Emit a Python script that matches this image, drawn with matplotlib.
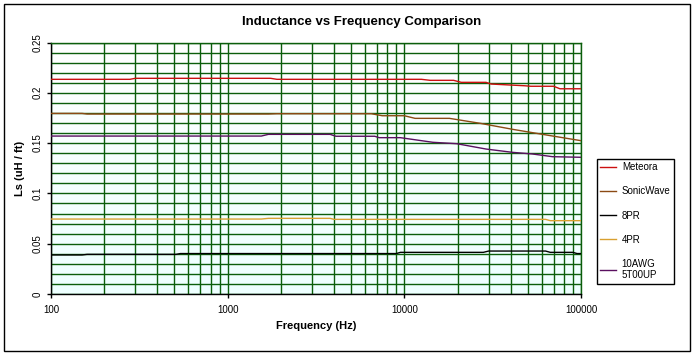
import numpy as np
import matplotlib
matplotlib.use("Agg")
import matplotlib.pyplot as plt
from matplotlib.patches import Rectangle
from matplotlib.ticker import FixedLocator, FixedFormatter, NullFormatter

plt.rcParams["font.family"] = ["Liberation Sans", "DejaVu Sans"]

# Frequency breakpoints (Hz) and inductance (uH / ft)
meteora_f = [100, 280, 300, 1750, 1900, 12500, 14000, 19000, 21000, 29000, 31000, 48000, 52000, 70000, 76000, 100000]
meteora_ls = [0.2134, 0.2134, 0.2144, 0.2144, 0.2134, 0.2134, 0.2124, 0.2124, 0.2104, 0.2104, 0.2087, 0.2070, 0.2065, 0.2065, 0.2040, 0.2040]

sonicwave_f = [100, 150, 160, 1700, 1900, 6500, 7500, 10000, 11500, 18000, 27000, 41000, 64000, 100000]
sonicwave_ls = [0.1795, 0.1795, 0.1789, 0.1789, 0.1792, 0.1792, 0.1772, 0.1772, 0.1746, 0.1746, 0.1696, 0.1637, 0.1580, 0.1524]

pr8_f = [100, 150, 160, 510, 540, 9000, 9500, 28000, 30000, 63000, 67000, 90000, 95000, 100000]
pr8_ls = [0.0388, 0.0388, 0.0394, 0.0394, 0.0402, 0.0402, 0.0414, 0.0414, 0.0427, 0.0427, 0.0414, 0.0414, 0.0402, 0.0402]

pr4_f = [100, 1550, 1700, 3800, 4000, 63000, 67000, 100000]
pr4_ls = [0.0745, 0.0745, 0.0752, 0.0752, 0.0742, 0.0742, 0.0729, 0.0729]

awg10_f = [100, 1550, 1700, 3800, 4100, 6800, 7200, 9500, 14500, 19800, 29000, 41000, 53000, 69000, 100000]
awg10_ls = [0.1570, 0.1570, 0.1587, 0.1587, 0.1568, 0.1568, 0.1554, 0.1554, 0.1508, 0.1494, 0.1441, 0.1408, 0.1392, 0.1365, 0.1359]

series_names = ["Meteora", "SonicWave", "8PR", "4PR", "10AWG\n5T00UP"]
series_colors = ["#CC1010", "#8B4A14", "#000000", "#D9A030", "#5A1060"]

x_tick_values = [100, 1000, 10000, 100000]
x_tick_labels = ["100", "1000", "10000", "100000"]
y_tick_values = [0, 0.05, 0.1, 0.15, 0.2, 0.25]
y_tick_labels = ["0", "0.05", "0.1", "0.15", "0.2", "0.25"]

GRID = "#0B5E0B"

fig = plt.figure(figsize=(6.96, 3.56), dpi=100)
fig.patch.set_facecolor("white")
fig.patches.append(Rectangle((4 / 696, 5 / 356), 686 / 696, 347 / 356, transform=fig.transFigure,
                             fill=False, edgecolor="black", linewidth=1.0))

ax = fig.add_axes([51 / 696, 62 / 356, 530 / 696, 251.5 / 356])

# white-to-pale-cyan fill of the plot area
grad = np.linspace(0, 1, 256).reshape(-1, 1)
bg = np.ones((256, 1, 3))
bg[:, 0, 0] = 1 - 0.07 * grad[:, 0]
ax.imshow(bg, extent=[0, 1, 0, 1], transform=ax.transAxes, aspect="auto", zorder=0, origin="upper")

all_series = [(meteora_f, meteora_ls), (sonicwave_f, sonicwave_ls), (pr8_f, pr8_ls),
              (pr4_f, pr4_ls), (awg10_f, awg10_ls)]
for (f, ls), name, color in zip(all_series, series_names, series_colors):
    ax.plot(f, ls, color=color, linewidth=1.0, label=name, zorder=3)

ax.set_xscale("log")
ax.set_xlim(100, 100000)
ax.set_ylim(0, 0.25)

ax.xaxis.set_major_locator(FixedLocator(x_tick_values))
ax.xaxis.set_major_formatter(FixedFormatter(x_tick_labels))
minor_x = [m * 10 ** e for e in range(2, 5) for m in range(2, 10)]
ax.xaxis.set_minor_locator(FixedLocator(minor_x))
ax.xaxis.set_minor_formatter(NullFormatter())

ax.yaxis.set_major_locator(FixedLocator(y_tick_values))
ax.yaxis.set_major_formatter(FixedFormatter(y_tick_labels))
ax.yaxis.set_minor_locator(FixedLocator(np.arange(0, 0.251, 0.01)))

ax.grid(which="both", color=GRID, linewidth=1.0, zorder=1)
ax.set_axisbelow(True)
ax.tick_params(axis="both", which="minor", length=0)
ax.tick_params(axis="x", which="major", length=3, width=1, labelsize=7, pad=5, color="black")
ax.tick_params(axis="y", which="major", length=3, width=1, labelsize=7, pad=3, color="black")
for lbl in ax.get_yticklabels():
    lbl.set_rotation(90)
    lbl.set_va("center")

for side in ["left", "bottom"]:
    ax.spines[side].set_color("black")
    ax.spines[side].set_linewidth(1.0)
for side in ["top", "right"]:
    ax.spines[side].set_color(GRID)
    ax.spines[side].set_linewidth(1.0)

fig.text(362 / 696, 1 - 22 / 356, "Inductance vs Frequency Comparison", ha="center", va="center",
         fontsize=9.5, fontweight="bold")
fig.text(316 / 696, 1 - 326 / 356, "Frequency (Hz)", ha="center", va="center",
         fontsize=8, fontweight="bold")
fig.text(20 / 696, 1 - 168 / 356, "Ls (uH / ft)", ha="center", va="center", rotation=90,
         fontsize=8, fontweight="bold")

leg = ax.legend(loc="upper left", bbox_to_anchor=(597 / 696, 1 - 159 / 356), bbox_transform=fig.transFigure,
                fontsize=7, frameon=True, fancybox=False, edgecolor="black", framealpha=1,
                handlelength=1.6, handletextpad=0.6, labelspacing=1.45, borderpad=0.35, borderaxespad=0)
leg.get_frame().set_linewidth(1.0)

fig.savefig("out.png", dpi=100)
